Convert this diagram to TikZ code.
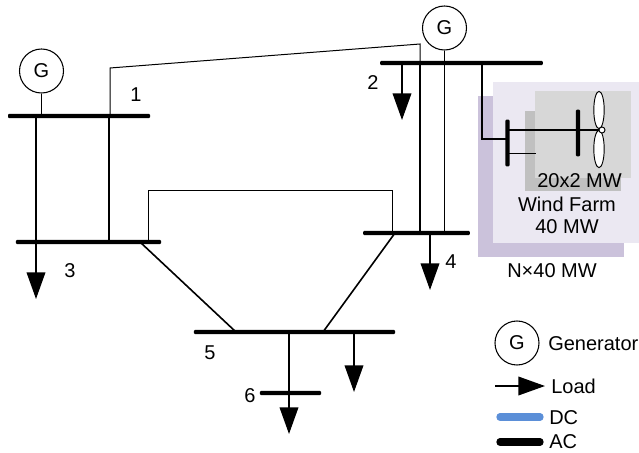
\documentclass[tikz,border=0pt]{standalone}
\usepackage{fontspec}
\setmainfont{Liberation Sans}
\usetikzlibrary{arrows.meta}
\tikzset{
  busbar/.style={fill=black, rounded corners=0.8pt, inner sep=0pt, minimum height=3.2pt},
  gen/.style={draw, circle, fill=white, line width=0.8pt, minimum size=33pt, inner sep=0pt},
  wire/.style={line width=1.2pt},
  thinwire/.style={line width=0.75pt},
  load/.style={line width=1.2pt, -{Triangle[length=20pt, width=14pt]}},
  label/.style={font=\fontsize{15pt}{16pt}\selectfont, inner sep=0pt},
  legendbar/.style={line width=5.5pt, line cap=round},
  blade/.style={draw, ellipse, fill=white, line width=0.7pt, inner sep=0pt, minimum width=7.8pt, minimum height=28pt}
}
\usetikzlibrary{shapes.geometric}
\definecolor{farmback}{RGB}{203,194,219}
\definecolor{farmfront}{RGB}{235,232,242}
\definecolor{unitback}{RGB}{192,192,192}
\definecolor{unitfront}{RGB}{215,215,215}
\definecolor{dcblue}{RGB}{91,143,216}
\begin{document}
\begin{tikzpicture}[x=0.75pt, y=-0.75pt]
      \useasboundingbox (0, 0) rectangle (639, 453);
      \fill [farmback] (478, 96) rectangle (624, 257);
      \fill [farmfront] (493, 82) rectangle (639, 243);
      \fill [unitback] (525, 111) rectangle (621, 191);
      \fill [unitfront] (535, 91) rectangle (631, 178);

      \node [busbar, minimum width=106.5pt] (bus1) at (79, 116) {};
      \node [busbar, minimum width=122pt] (bus2) at (461.5, 63) {};
      \node [busbar, minimum width=109pt] (bus3) at (88.5, 242) {};
      \node [busbar, minimum width=80pt] (bus4) at (416.5, 233) {};
      \node [busbar, minimum width=151pt] (bus5) at (294.5, 332) {};
      \node [busbar, minimum width=46pt] (bus6) at (290.5, 393) {};
      \node [gen] (gen1) at (41.5, 71) {\fontsize{15pt}{16pt}\selectfont G};
      \node [gen] (gen2) at (444.5, 28) {\fontsize{15pt}{16pt}\selectfont G};

      \draw [wire] (gen1) -- (gen1 |- bus1);
      \draw [wire] (gen2) -- (gen2 |- bus4);
      \draw [wire] (36, 0 |- bus1) -- (36, 0 |- bus3);
      \draw [wire] (109, 0 |- bus1) -- (109, 0 |- bus3);
      \draw [thinwire] (110, 0 |- bus1) -- (110, 68) -- (420, 44) -- (420, 0 |- bus2);
      \draw [wire] (420, 0 |- bus2) -- (420, 0 |- bus4);
      \draw [thinwire] (148, 0 |- bus3) -- (148, 190) -- (392, 190) -- (392, 0 |- bus4);
      \draw [wire] (140, 0 |- bus3) -- (236, 0 |- bus5);
      \draw [wire] (395, 0 |- bus4) -- (323, 0 |- bus5);
      \draw [wire] (289, 0 |- bus5) -- (289, 0 |- bus6);

      \coordinate (load2) at (402, 120);
      \coordinate (load3) at (36, 299);
      \coordinate (load4) at (430, 290);
      \coordinate (load5) at (354, 392);
      \coordinate (load6) at (289, 434);
      \draw [load] (load2 |- bus2) -- (load2);
      \draw [load] (load3 |- bus3) -- (load3);
      \draw [load] (load4 |- bus4) -- (load4);
      \draw [load] (load5 |- bus5) -- (load5);
      \draw [load] (load6 |- bus6) -- (load6);

      \node [label] (num1) at (136, 95) {1};
      \node [label] (num2) at (373, 83) {2};
      \node [label] (num3) at (70, 271) {3};
      \node [label] (num4) at (451, 262) {4};
      \node [label] (num5) at (210, 353) {5};
      \node [label] (num6) at (250, 396) {6};

      \node [busbar, minimum width=3.2pt, minimum height=35pt] (farmbus) at (507.5, 143) {};
      \node [busbar, minimum width=3.2pt, minimum height=35pt] (unitbus) at (578, 133) {};
      \node [blade] (bladeup) at (599, 110) {};
      \node [blade] (bladedown) at (599, 149) {};
      \node [draw, circle, fill=white, line width=0.7pt, inner sep=0pt, minimum size=4.5pt] (hub) at (602, 130) {};
      \coordinate (tail) at (536, 153.5);
      \draw [wire] (482, 0 |- bus2) -- (482, 139) -- (farmbus.center |- 0, 139);
      \draw [wire] (farmbus.center |- hub) -- (hub);
      \draw [wire] (farmbus.center |- tail) -- (tail);

      \node [label] (unitlabel) at (579.5, 181) {20x2 MW};
      \node [label] (farmlabel) at (567, 204) {Wind Farm};
      \node [label] (farmsize) at (567, 227) {40 MW};
      \node [label] (totalsize) at (552, 271) {N×40 MW};

      \node [gen] (keygen) at (517, 343) {\fontsize{15pt}{16pt}\selectfont G};
      \node [label, anchor=west] (keygentext) at (548, 344) {Generator};
      \coordinate (keyloadstart) at (495, 386);
      \coordinate (keyloadend) at (545, 386);
      \draw [load] (keyloadstart) -- (keyloadend);
      \node [label, anchor=west] (keyloadtext) at (551, 386) {Load};
      \coordinate (keydcstart) at (500, 417);
      \coordinate (keydcend) at (540, 417);
      \draw [legendbar, dcblue] (keydcstart) -- (keydcend);
      \node [label, anchor=west] (keydctext) at (549, 418) {DC};
      \coordinate (keyacstart) at (500, 442);
      \coordinate (keyacend) at (540, 442);
      \draw [legendbar, black] (keyacstart) -- (keyacend);
      \node [label, anchor=west] (keyactext) at (549, 442) {AC};
    \end{tikzpicture}
\end{document}
